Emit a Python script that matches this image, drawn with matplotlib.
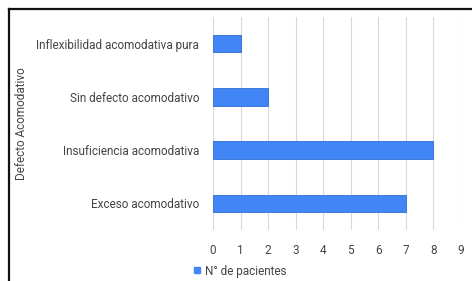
import matplotlib.pyplot as plt
from matplotlib.lines import Line2D

# Data
categories = ['Exceso acomodativo', 'Insuficiencia acomodativa',
              'Sin defecto acomodativo', 'Inflexibilidad acomodativa pura']
pacientes = [7, 8, 2, 1]
x_ticks = list(range(0, 10))

plt.rcParams['font.family'] = ['Roboto', 'DejaVu Sans']

W, H = 472, 281
fig = plt.figure(figsize=(W / 100, H / 100), dpi=100)
ax = fig.add_axes([213 / W, 1 - 230 / H, (461 - 213) / W, (230 - 17) / H])

bar_color = '#4285f4'
ypos = list(range(len(categories)))
ax.barh(ypos, pacientes, height=0.33, color=bar_color,
        edgecolor='#2f6fd6', linewidth=0.6, zorder=3)

ax.set_xlim(0, 9)
ax.set_ylim(-0.5, 3.5)
ax.set_xticks(x_ticks)
ax.set_yticks(ypos)
ax.set_yticklabels(categories)
ax.grid(axis='x', color='#d9d9d9', linewidth=0.8, zorder=0)
for s in ax.spines.values():
    s.set_visible(False)
ax.tick_params(axis='both', length=0, labelsize=8.5, colors='#444444')
ax.tick_params(axis='x', pad=10)
ax.tick_params(axis='y', pad=10)
ax.set_ylabel('Defecto Acomodativo', fontsize=8.5, color='#444444')
ax.yaxis.set_label_coords((28 - 213) / 248, 0.5)

# legend
handle = Line2D([], [], marker='s', linestyle='none', color=bar_color,
                markersize=4)
fig.legend([handle], ['N° de pacientes'], loc='center',
           bbox_to_anchor=(236 / W, 1 - 271 / H), frameon=False,
           fontsize=8.5, handletextpad=-0.3, labelcolor='#444444',
           borderaxespad=0)

# outer black frame, cut off on the right and bottom as in the screenshot
fx = 9 / W
fy = 1 - 9 / H
fig.add_artist(Line2D([fx, 1.0], [fy, fy], transform=fig.transFigure,
                      color='#111111', linewidth=1.6))
fig.add_artist(Line2D([fx, fx], [0.0, fy], transform=fig.transFigure,
                      color='#111111', linewidth=1.6))

fig.savefig('out.png', dpi=100)
